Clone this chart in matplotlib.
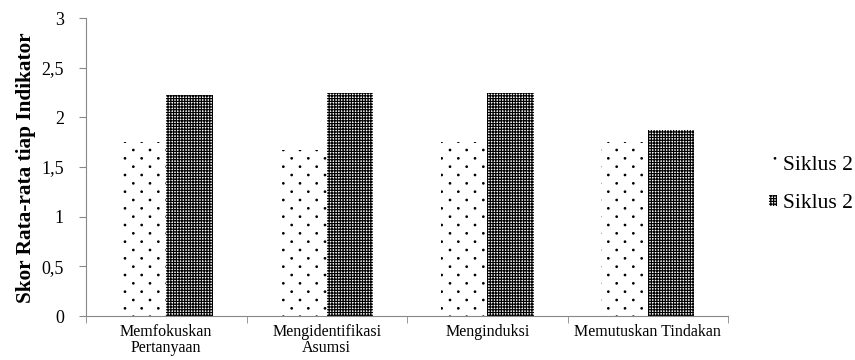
import numpy as np
import matplotlib.pyplot as plt
import matplotlib.hatch as mhatch

plt.rcParams['font.family'] = ['Liberation Serif', 'DejaVu Serif']
plt.rcParams['hatch.linewidth'] = 0.85


# pola titik: baris lebih rapat (selang-seling), titik lebih kecil
class TitikRapat(mhatch.SmallFilledCircles):
    size = 0.045

    def __init__(self, hatch, density):
        super().__init__(hatch, density)
        n = self.num_rows
        self.num_shapes = (n + 1) ** 2 + n ** 2 if n else 0
        self.num_vertices = self.num_shapes * len(self.shape_vertices)

    def set_vertices_and_codes(self, vertices, codes):
        n = self.num_rows
        step = 1.0 / n
        bentuk = self.shape_vertices * step * self.size
        m = len(bentuk)
        k = 0
        for row in range(2 * n + 1):
            if row % 2 == 0:
                cols = np.linspace(0, 1, n + 1)
            else:
                cols = np.linspace(step / 2, 1 - step / 2, n)
            for c in cols:
                vertices[k:k + m] = bentuk + (c, row * step / 2)
                codes[k:k + m] = self.shape_codes
                k += m


mhatch._hatch_types = [TitikRapat if t is mhatch.SmallFilledCircles else t
                       for t in mhatch._hatch_types]

# data
kategori = ['Memfokuskan\nPertanyaan', 'Mengidentifikasi\nAsumsi',
            'Menginduksi', 'Memutuskan Tindakan']
seri_1 = [1.75, 1.67, 1.75, 1.75]
seri_2 = [2.23, 2.25, 2.25, 1.87]
label_seri = ['Siklus 2', 'Siklus 2']
yticks = [0, 0.5, 1, 1.5, 2, 2.5, 3]
ytick_labels = ['0', '0,5', '1', '1,5', '2', '2,5', '3']

fig = plt.figure(figsize=(8.55, 3.6), dpi=100)
ax = fig.add_axes([0.1006, 0.122, 0.751, 0.828])

x = np.arange(len(kategori))
lebar = 0.29
b1 = ax.bar(x - lebar/2, seri_1, lebar, facecolor='white', edgecolor='black',
            linewidth=0, hatch='.', label=label_seri[0])
b2 = ax.bar(x + lebar/2, seri_2, lebar, facecolor='white', edgecolor='black',
            linewidth=0, hatch='++++++', label=label_seri[1])

ax.set_xlim(-0.5, len(kategori) - 0.5)
ax.set_ylim(0, 3)
ax.set_yticks(yticks)
ax.set_yticklabels(ytick_labels, fontsize=13)
ax.set_xticks(x)
ax.set_xticklabels(kategori, fontsize=11.5, linespacing=1.0)
ax.tick_params(axis='x', which='major', length=0, pad=6)
ax.set_xticks(np.arange(-0.5, len(kategori)), minor=True)
ax.tick_params(axis='x', which='minor', length=5, color='#888888', direction='out')
ax.tick_params(axis='y', length=5, color='#888888', direction='out', pad=11)

for s in ['top', 'right']:
    ax.spines[s].set_visible(False)
for s in ['left', 'bottom']:
    ax.spines[s].set_color('#888888')

ax.set_ylabel('Skor Rata-rata tiap Indikator', fontsize=15.3, fontweight='bold')
ax.yaxis.set_label_coords(-0.078, 0.498)

fig.legend(handles=[b1, b2], loc='center left', bbox_to_anchor=(0.899, 0.487),
           frameon=False, fontsize=15.5, handlelength=0.4, handleheight=0.4,
           handletextpad=0.25, labelspacing=0.9, borderpad=0, borderaxespad=0)

fig.savefig('out.png', dpi=100)
